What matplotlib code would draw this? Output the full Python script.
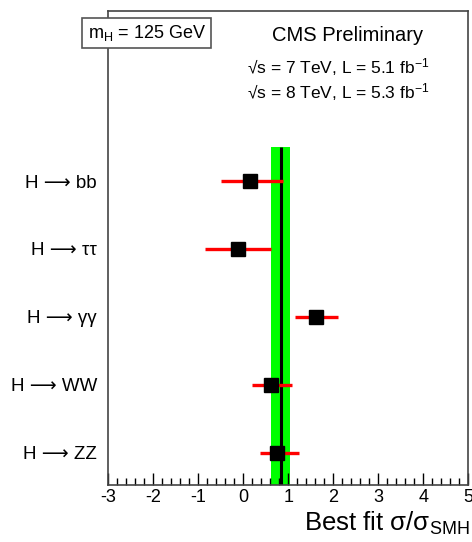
import matplotlib
matplotlib.use("Agg")
import matplotlib.pyplot as plt
from matplotlib.ticker import MultipleLocator

plt.rcParams['font.family'] = ['Liberation Sans', 'DejaVu Sans']
plt.rcParams['mathtext.fontset'] = 'custom'
plt.rcParams['mathtext.rm'] = 'Liberation Sans'
plt.rcParams['mathtext.it'] = 'Liberation Sans:italic'
plt.rcParams['mathtext.sf'] = 'Liberation Sans'
plt.rcParams['axes.unicode_minus'] = False

# Data
channels = ["H ⟶ ZZ", "H ⟶ WW", "H ⟶ γγ", "H ⟶ ττ", "H ⟶ bb"]
best_fit = [0.75, 0.63, 1.62, -0.12, 0.16]
err_lo = [0.37, 0.43, 0.46, 0.73, 0.66]
err_hi = [0.50, 0.46, 0.49, 0.75, 0.73]
combined = 0.83
combined_lo = 0.63
combined_hi = 1.05

fig = plt.figure(figsize=(4.72, 5.42), dpi=100)
ax = fig.add_axes([0.229, 0.105, 0.763, 0.875])

ylo, yhi = -0.48, 6.51
band_top = len(channels) - 0.5
ax.fill_betweenx([ylo, band_top], combined_lo, combined_hi, color='#00ff00', lw=0, zorder=1)
ax.vlines(combined, ylo, band_top, color='black', lw=2.2, zorder=2)

ypos = list(range(len(channels)))
ax.errorbar(best_fit, ypos, xerr=[err_lo, err_hi], fmt='none', ecolor='#ff0000',
            elinewidth=2.4, capsize=0, zorder=3)
ax.plot(best_fit, ypos, 's', color='black', ms=10, zorder=4)

ax.set_xlim(-3, 5)
ax.set_ylim(ylo, yhi)
ax.set_yticks(ypos)
ax.set_yticklabels(channels, fontsize=13.5)
ax.tick_params(axis='y', length=0, pad=8)
ax.xaxis.set_major_locator(MultipleLocator(1))
ax.xaxis.set_minor_locator(MultipleLocator(0.2))
ax.tick_params(axis='x', which='major', direction='in', length=9, width=1, labelsize=13, pad=3)
ax.tick_params(axis='x', which='minor', direction='in', length=5, width=1)
for s in ax.spines.values():
    s.set_color('#444444')
    s.set_linewidth(1.2)

fig.text(0.995, 0.021, r"Best fit σ/σ$_{\mathregular{SMH}}$", ha='right', va='baseline', fontsize=18.5)

# annotations
fig.text(0.737, 0.925, "CMS Preliminary", ha='center', va='baseline', fontsize=14.5)
fig.text(0.524, 0.864, r"√s = 7 TeV, L = 5.1 fb$^{\mathregular{-1}}$", ha='left', va='baseline', fontsize=12.5)
fig.text(0.524, 0.818, r"√s = 8 TeV, L = 5.3 fb$^{\mathregular{-1}}$", ha='left', va='baseline', fontsize=12.5)
fig.text(0.186, 0.930, r"m$_{\mathregular{H}}$ = 125 GeV", ha='left', va='baseline', fontsize=13,
         bbox=dict(boxstyle='square,pad=0.3', fc='white', ec='#555555', lw=1.2))

fig.savefig("out.png", dpi=100)
